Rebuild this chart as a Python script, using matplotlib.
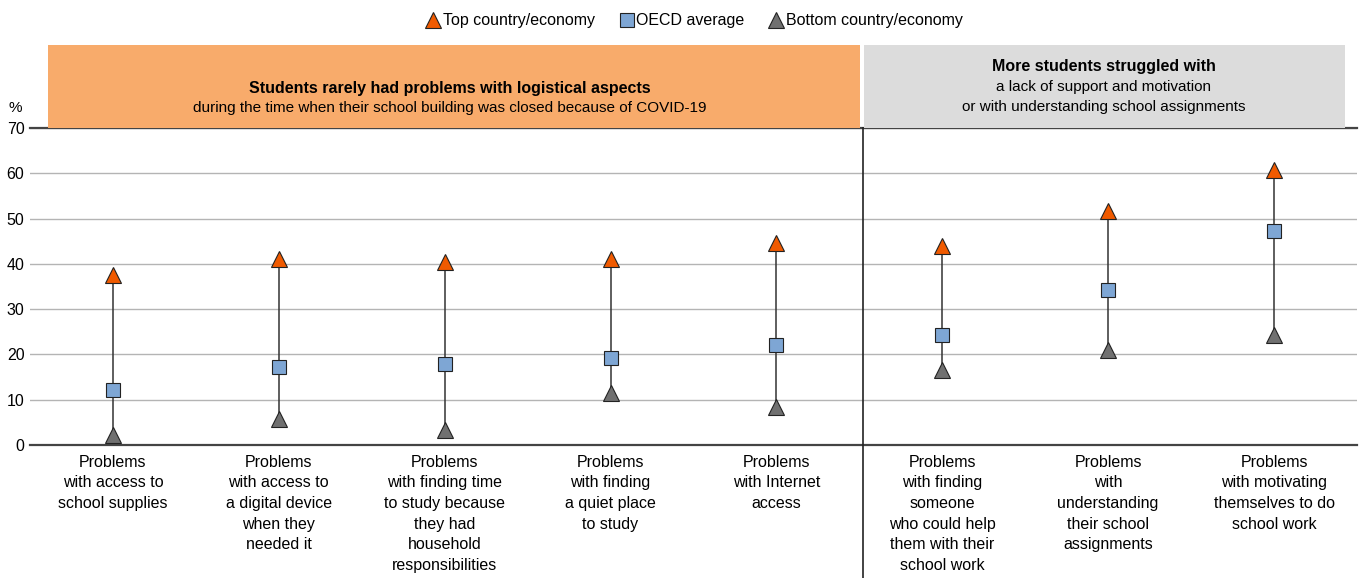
import matplotlib
matplotlib.use("Agg")
import matplotlib.pyplot as plt
from matplotlib.patches import Rectangle
from matplotlib.transforms import blended_transform_factory

plt.rcParams['font.family'] = ['Liberation Sans', 'DejaVu Sans']

categories = [
    "Problems\nwith access to\nschool supplies",
    "Problems\nwith access to\na digital device\nwhen they\nneeded it",
    "Problems\nwith finding time\nto study because\nthey had\nhousehold\nresponsibilities",
    "Problems\nwith finding\na quiet place\nto study",
    "Problems\nwith Internet\naccess",
    "Problems\nwith finding\nsomeone\nwho could help\nthem with their\nschool work",
    "Problems\nwith\nunderstanding\ntheir school\nassignments",
    "Problems\nwith motivating\nthemselves to do\nschool work",
]
top_vals = [37.5, 41.1, 40.4, 41.1, 44.6, 43.9, 51.7, 60.7]
oecd_vals = [12.1, 17.2, 17.9, 19.2, 22.1, 24.3, 34.2, 47.2]
bottom_vals = [2.2, 5.7, 3.3, 11.5, 8.4, 16.6, 21.0, 24.3]
yticks = [0, 10, 20, 30, 40, 50, 60, 70]

W, H = 1364, 578
fig = plt.figure(figsize=(W / 100, H / 100), dpi=100)
ax = fig.add_axes([30 / W, 1 - 445 / H, (1357 - 30) / W, (445 - 128) / H])

x = list(range(len(categories)))

# range lines
for i in x:
    ax.plot([i, i], [bottom_vals[i], top_vals[i]], color='#333333', lw=1.1, zorder=2)

ax.plot(x, top_vals, ls='none', marker='^', ms=12, mfc='#F05A00', mec='#222222', mew=0.8,
        zorder=4, label='Top country/economy')
ax.plot(x, oecd_vals, ls='none', marker='s', ms=10.5, mfc='#7EA6D4', mec='#222222', mew=0.8,
        zorder=4, label='OECD average')
ax.plot(x, bottom_vals, ls='none', marker='^', ms=12, mfc='#707070', mec='#222222', mew=0.8,
        zorder=4, label='Bottom country/economy')

ax.set_xlim(-0.5, 7.5)
ax.set_ylim(0, 70)
ax.set_yticks(yticks)
ax.set_xticks(x)
ax.set_xticklabels(categories, fontsize=11.5, linespacing=1.47, va='top')
ax.tick_params(axis='x', length=0, pad=7)
ax.tick_params(axis='y', length=0, pad=4, labelsize=11.5)
ax.grid(axis='y', color='#b4b4b4', lw=1)
ax.set_axisbelow(True)
for s in ['left', 'right']:
    ax.spines[s].set_visible(False)
for s in ['top', 'bottom']:
    ax.spines[s].set_color('#444444')
    ax.spines[s].set_linewidth(1.6)

# y unit label
fig.text(15 / W, 1 - 108 / H, '%', fontsize=11, ha='center', va='center')

# divider line between groups
trans = blended_transform_factory(ax.transData, ax.transAxes)
ax.plot([4.52, 4.52], [-0.42, 1.0], transform=trans, color='#222222', lw=1.2, clip_on=False, zorder=5)

# header boxes
fig.patches.append(Rectangle((48 / W, 1 - 128 / H), (860 - 48) / W, 83 / H,
                             transform=fig.transFigure, facecolor='#F8AB6B', edgecolor='none'))
fig.patches.append(Rectangle((864 / W, 1 - 128 / H), (1345 - 864) / W, 83 / H,
                             transform=fig.transFigure, facecolor='#DCDCDC', edgecolor='none'))

fig.text(450 / W, 1 - 88 / H, 'Students rarely had problems with logistical aspects',
         fontsize=11.5, fontweight='bold', ha='center', va='center')
fig.text(450 / W, 1 - 108 / H, 'during the time when their school building was closed because of COVID-19',
         fontsize=11, ha='center', va='center')
fig.text(1104 / W, 1 - 66 / H, 'More students struggled with',
         fontsize=11.5, fontweight='bold', ha='center', va='center')
fig.text(1104 / W, 1 - 86.5 / H, 'a lack of support and motivation',
         fontsize=11, ha='center', va='center')
fig.text(1104 / W, 1 - 107 / H, 'or with understanding school assignments',
         fontsize=11, ha='center', va='center')

fig.legend(loc='center', bbox_to_anchor=(694 / W, 1 - 21 / H), ncol=3, frameon=False,
           fontsize=11.5, handletextpad=0.1, columnspacing=1.5, handlelength=1.0,
           borderpad=0, markerscale=1.0)

fig.savefig('out.png', dpi=100)
